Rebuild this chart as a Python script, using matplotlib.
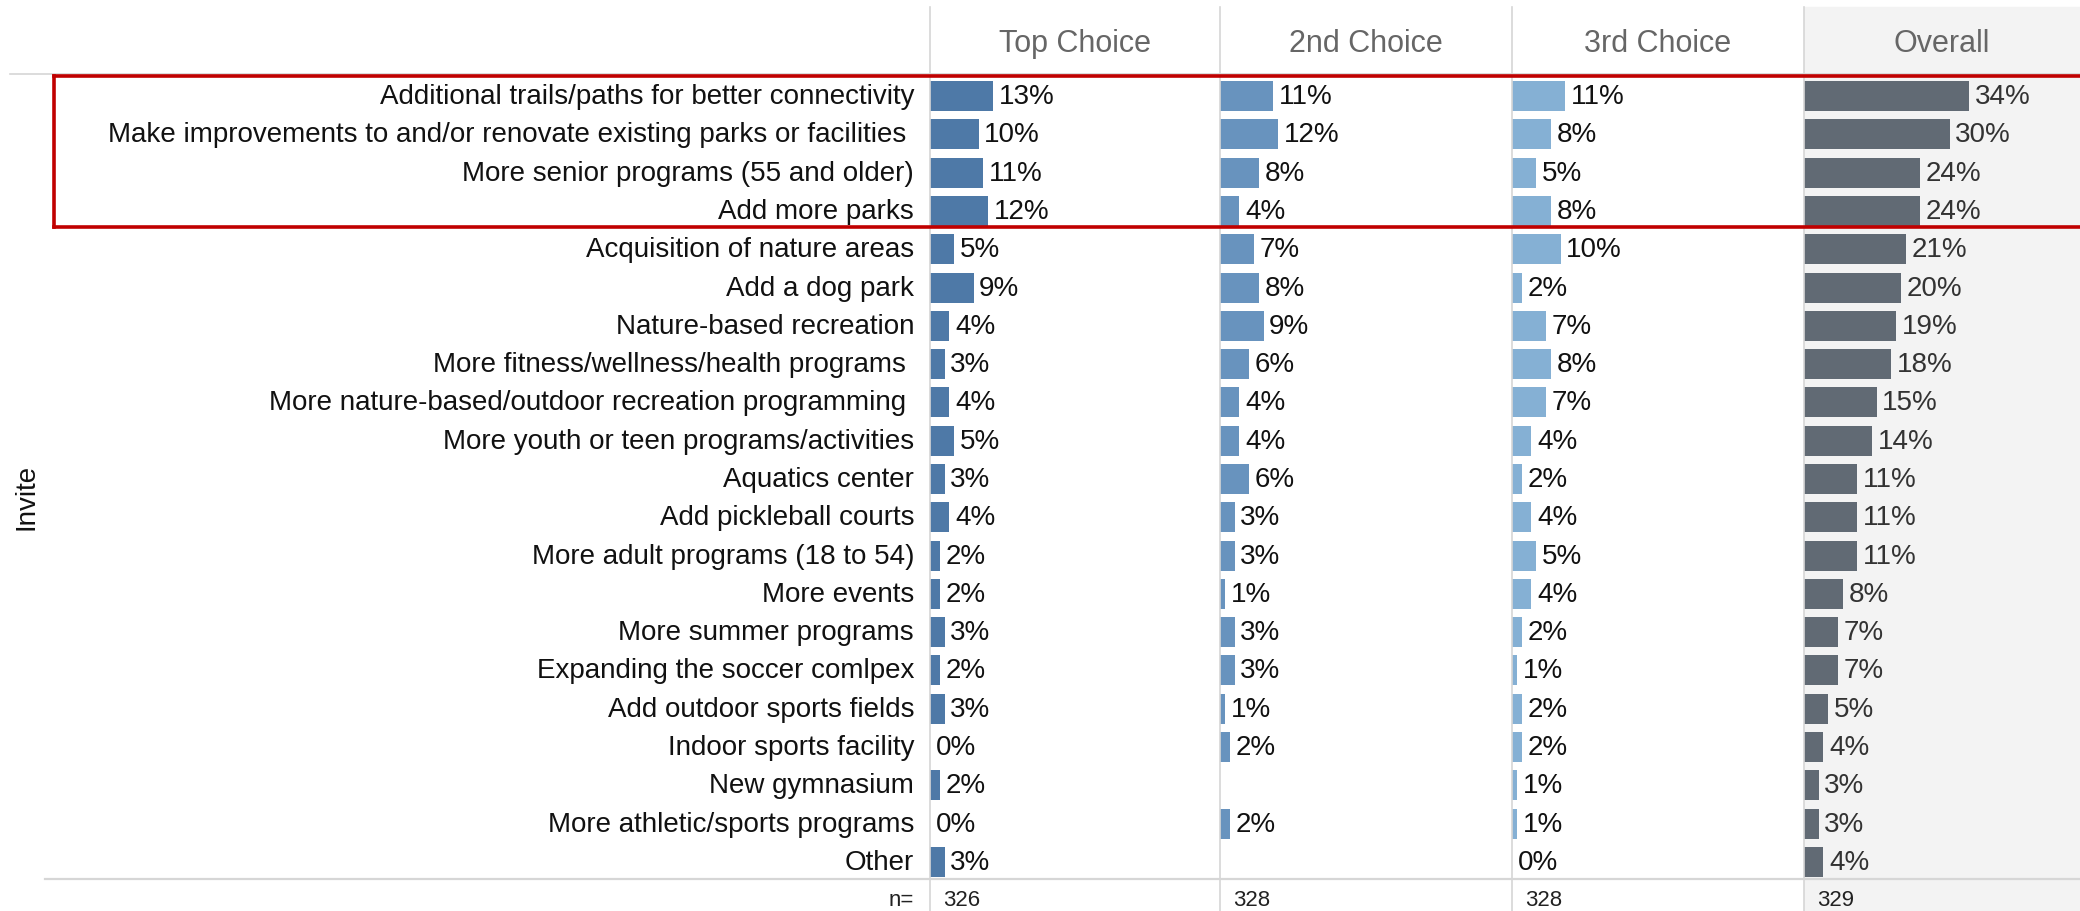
import numpy as np
import matplotlib
matplotlib.use('Agg')
import matplotlib.pyplot as plt
from matplotlib.patches import Rectangle
from matplotlib.lines import Line2D

plt.rcParams['font.family'] = ['Liberation Sans', 'DejaVu Sans']

categories = [
    "Additional trails/paths for better connectivity",
    "Make improvements to and/or renovate existing parks or facilities ",
    "More senior programs (55 and older)",
    "Add more parks",
    "Acquisition of nature areas",
    "Add a dog park",
    "Nature-based recreation",
    "More fitness/wellness/health programs ",
    "More nature-based/outdoor recreation programming ",
    "More youth or teen programs/activities",
    "Aquatics center",
    "Add pickleball courts",
    "More adult programs (18 to 54)",
    "More events",
    "More summer programs",
    "Expanding the soccer comlpex",
    "Add outdoor sports fields",
    "Indoor sports facility",
    "New gymnasium",
    "More athletic/sports programs",
    "Other",
]

top_choice = [13, 10, 11, 12, 5, 9, 4, 3, 4, 5, 3, 4, 2, 2, 3, 2, 3, 0, 2, 0, 3]
second_choice = [11, 12, 8, 4, 7, 8, 9, 6, 4, 4, 6, 3, 3, 1, 3, 3, 1, 2, np.nan, 2, np.nan]
third_choice = [11, 8, 5, 8, 10, 2, 7, 8, 7, 4, 2, 4, 5, 4, 2, 1, 2, 2, 1, 1, 0]
overall = [34, 30, 24, 24, 21, 20, 19, 18, 15, 14, 11, 11, 11, 8, 7, 7, 5, 4, 3, 3, 4]

panel_titles = ["Top Choice", "2nd Choice", "3rd Choice", "Overall"]
n_values = [326, 328, 328, 329]
group_label = "Invite"

colors = ["#4e79a7", "#6893be", "#85b0d4", "#616a74"]
label_colors = ["#111111", "#111111", "#111111", "#333333"]

W, H = 2080, 912
fig = plt.figure(figsize=(W / 100, H / 100), dpi=100)


def fx(px):
    return px / W


def fy(py):
    return 1 - py / H


panel_edges = [930, 1220, 1512, 1804, 2080]
rows_top, rows_bottom = 78, 882
px_per_pct = 4.85
font_size = 20

# grey background for the Overall panel
fig.patches.append(Rectangle((fx(1804), fy(912)), fx(2080 - 1804), (912 - 8) / H,
                             transform=fig.transFigure, color="#f3f3f3", zorder=-2))

series = [top_choice, second_choice, third_choice, overall]
n_rows = len(categories)
ypos = np.arange(n_rows)

for k, vals in enumerate(series):
    left, right = panel_edges[k], panel_edges[k + 1]
    ax = fig.add_axes([fx(left), fy(rows_bottom), fx(right - left),
                       (rows_bottom - rows_top) / H])
    ax.patch.set_alpha(0)
    vals = np.array(vals, dtype=float)
    ax.barh(ypos, np.nan_to_num(vals), height=0.78, color=colors[k])
    ax.set_xlim(0, (right - left) / px_per_pct)
    ax.set_ylim(n_rows - 0.5, -0.5)
    ax.axis("off")
    for i, v in enumerate(vals):
        if np.isnan(v):
            continue
        ax.annotate(f"{v:.0f}%", (v, i), xytext=(4, 0), textcoords="offset points",
                    ha="left", va="center", fontsize=font_size, color=label_colors[k])

    fig.text(fx((left + right) / 2), fy(44), panel_titles[k], ha="center", va="center",
             fontsize=22, color="#666666")
    fig.text(fx(left + 13), fy(901), str(n_values[k]), ha="left", va="center",
             fontsize=16, color="#222222")

# row labels
for i, name in enumerate(categories):
    yc = rows_top + (rows_bottom - rows_top) / n_rows * (i + 0.5)
    fig.text(fx(914), fy(yc), name, ha="right", va="center", fontsize=font_size,
             color="#111111")

fig.text(fx(914), fy(901), "n=", ha="right", va="center", fontsize=16, color="#222222")
fig.text(fx(26), fy(497), group_label, rotation=90, ha="center", va="center",
         fontsize=20, color="#111111")

# divider lines
for xe in panel_edges[:-1]:
    fig.lines.append(Line2D([fx(xe), fx(xe)], [fy(8), fy(912)], transform=fig.transFigure,
                            color="#d6d6d6", lw=1.2, zorder=1))
fig.lines.append(Line2D([fx(10), fx(2080)], [fy(75), fy(75)], transform=fig.transFigure,
                        color="#d6d6d6", lw=1.2, zorder=1))
fig.lines.append(Line2D([fx(45), fx(2080)], [fy(880), fy(880)], transform=fig.transFigure,
                        color="#d6d6d6", lw=1.6, zorder=1))

# red highlight around the top four rows
red = "#c00000"
box_top, box_bottom, box_left = 77, 228, 54
for xs, ys in [([box_left, 2080], [box_top, box_top]),
               ([box_left, 2080], [box_bottom, box_bottom]),
               ([box_left, box_left], [box_top, box_bottom])]:
    fig.lines.append(Line2D([fx(x) for x in xs], [fy(y) for y in ys],
                            transform=fig.transFigure, color=red, lw=2.6, zorder=5))

fig.savefig("out.png", dpi=100)
